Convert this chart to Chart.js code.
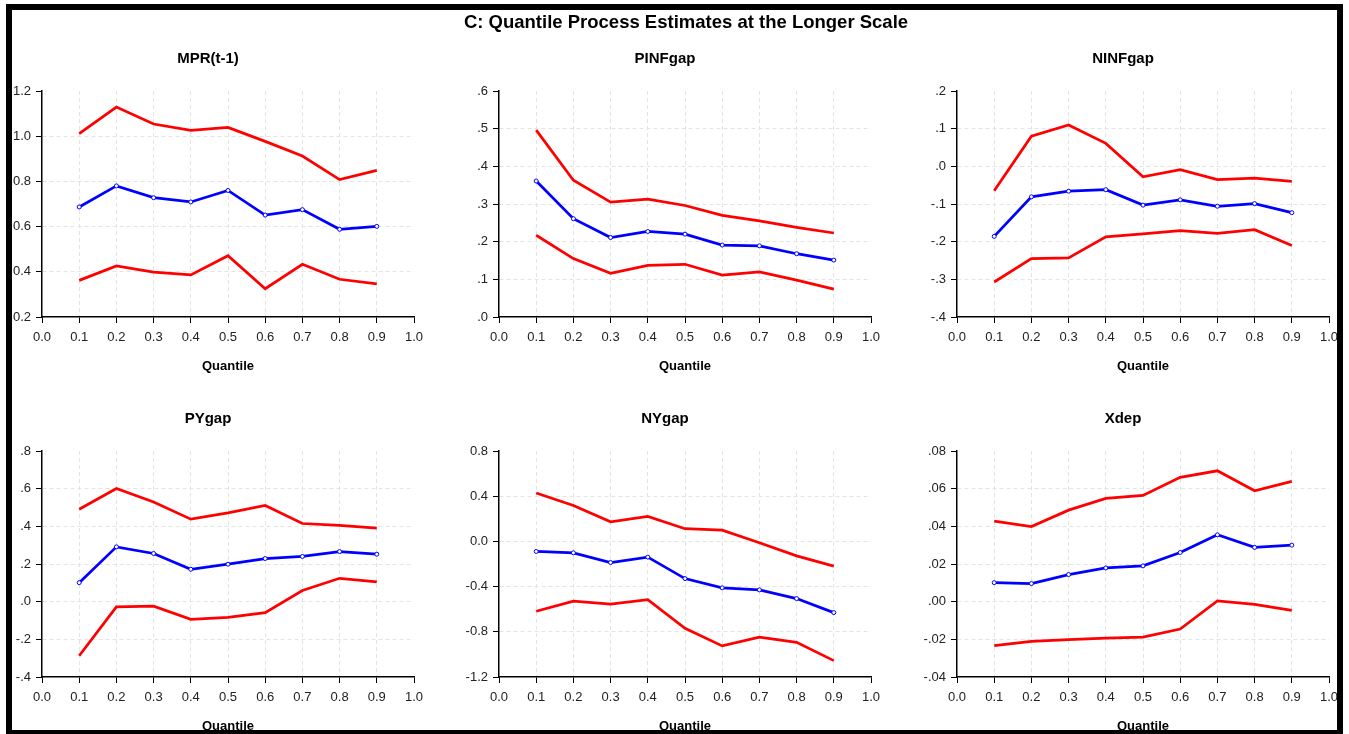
<!DOCTYPE html>
<html>
<head>
<meta charset="utf-8">
<title>Quantile Process Estimates</title>
<script src="https://cdn.jsdelivr.net/npm/chart.js@4/dist/chart.umd.min.js"></script>
<style>
  html, body {
    margin: 0;
    padding: 0;
    background: #ffffff;
    overflow: hidden;
  }
  #page {
    position: relative;
    width: 1349px;
    height: 734px;
  }
  #frame {
    position: absolute;
    left: 6px;
    top: 4px;
    width: 1337px;
    height: 732px;
    box-sizing: border-box;
    border: 6px solid #000;
    z-index: 5;
    pointer-events: none;
  }
  #mainTitle {
    position: absolute;
    left: 386px;
    top: 11px;
    width: 600px;
    text-align: center;
    font: bold 18.5px "Liberation Sans", Arial, sans-serif;
    line-height: 22px;
    color: #000;
    z-index: 6;
  }
  .panel {
    position: absolute;
    width: 452px;
    height: 333px;
  }
</style>
</head>
<body>
<div id="page">
  <div id="frame"></div>
  <div id="mainTitle">C: Quantile Process Estimates at the Longer Scale</div>
  <div class="panel" style="left:2px;top:41px"><canvas id="mprChart"></canvas></div>
  <div class="panel" style="left:459px;top:41px"><canvas id="pinfChart"></canvas></div>
  <div class="panel" style="left:917px;top:41px"><canvas id="ninfChart"></canvas></div>
  <div class="panel" style="left:2px;top:401px"><canvas id="pyChart"></canvas></div>
  <div class="panel" style="left:459px;top:401px"><canvas id="nyChart"></canvas></div>
  <div class="panel" style="left:917px;top:401px"><canvas id="xdepChart"></canvas></div>
</div>

<script>
const quantiles = [0.1, 0.2, 0.3, 0.4, 0.5, 0.6, 0.7, 0.8, 0.9];

const xTicks = [0, 0.1, 0.2, 0.3, 0.4, 0.5, 0.6, 0.7, 0.8, 0.9, 1.0];
const xLabels = ["0.0", "0.1", "0.2", "0.3", "0.4", "0.5", "0.6", "0.7", "0.8", "0.9", "1.0"];

// MPR(t-1)
const mprUpper = [1.011, 1.129, 1.054, 1.026, 1.039, 0.977, 0.912, 0.808, 0.849];
const mprCoef = [0.687, 0.780, 0.728, 0.709, 0.760, 0.651, 0.675, 0.588, 0.601];
const mprLower = [0.362, 0.426, 0.399, 0.386, 0.471, 0.325, 0.433, 0.367, 0.347];
const mprTicks = [0.2, 0.4, 0.6, 0.8, 1.0, 1.2];
const mprLabels = ["0.2", "0.4", "0.6", "0.8", "1.0", "1.2"];

// PINFgap
const pinfUpper = [0.496, 0.363, 0.305, 0.313, 0.296, 0.270, 0.255, 0.238, 0.223];
const pinfCoef = [0.361, 0.261, 0.211, 0.227, 0.220, 0.191, 0.189, 0.168, 0.151];
const pinfLower = [0.217, 0.155, 0.116, 0.137, 0.140, 0.111, 0.120, 0.098, 0.074];
const pinfTicks = [0, 0.1, 0.2, 0.3, 0.4, 0.5, 0.6];
const pinfLabels = [".0", ".1", ".2", ".3", ".4", ".5", ".6"];

// NINFgap
const ninfUpper = [-0.065, 0.080, 0.110, 0.061, -0.028, -0.009, -0.035, -0.031, -0.040];
const ninfCoef = [-0.186, -0.081, -0.066, -0.062, -0.103, -0.089, -0.106, -0.099, -0.123];
const ninfLower = [-0.307, -0.245, -0.243, -0.187, -0.179, -0.171, -0.178, -0.168, -0.210];
const ninfTicks = [-0.4, -0.3, -0.2, -0.1, 0, 0.1, 0.2];
const ninfLabels = ["-.4", "-.3", "-.2", "-.1", ".0", ".1", ".2"];

// PYgap
const pyUpper = [0.491, 0.601, 0.529, 0.438, 0.472, 0.511, 0.415, 0.405, 0.390];
const pyCoef = [0.101, 0.291, 0.256, 0.172, 0.199, 0.229, 0.240, 0.266, 0.252];
const pyLower = [-0.287, -0.028, -0.024, -0.094, -0.083, -0.058, 0.059, 0.124, 0.105];
const pyTicks = [-0.4, -0.2, 0, 0.2, 0.4, 0.6, 0.8];
const pyLabels = ["-.4", "-.2", ".0", ".2", ".4", ".6", ".8"];

// NYgap
const nyUpper = [0.428, 0.318, 0.174, 0.221, 0.112, 0.100, -0.012, -0.128, -0.219];
const nyCoef = [-0.089, -0.101, -0.187, -0.139, -0.329, -0.411, -0.429, -0.506, -0.630];
const nyLower = [-0.618, -0.529, -0.556, -0.515, -0.769, -0.925, -0.848, -0.893, -1.055];
const nyTicks = [-1.2, -0.8, -0.4, 0, 0.4, 0.8];
const nyLabels = ["-1.2", "-0.8", "-0.4", "0.0", "0.4", "0.8"];

// Xdep
const xdepUpper = [0.0428, 0.0399, 0.0486, 0.0548, 0.0564, 0.0660, 0.0695, 0.0589, 0.0639];
const xdepCoef = [0.0101, 0.0096, 0.0144, 0.0179, 0.0190, 0.0261, 0.0355, 0.0288, 0.0300];
const xdepLower = [-0.0234, -0.0211, -0.0202, -0.0193, -0.0188, -0.0145, 0.0004, -0.0014, -0.0046];
const xdepTicks = [-0.04, -0.02, 0, 0.02, 0.04, 0.06, 0.08];
const xdepLabels = ["-.04", "-.02", ".00", ".02", ".04", ".06", ".08"];

Chart.defaults.font.family = "'Liberation Sans', Arial, sans-serif";
Chart.defaults.animation = false;

const gridGray = "#e4e4e4";

function toPoints(values) {
  return quantiles.map((q, i) => ({ x: q, y: values[i] }));
}

function hideEnds(ctx) {
  const last = ctx.scale.ticks.length - 1;
  if (ctx.index === 0 || ctx.index === last) return "rgba(0,0,0,0)";
  return gridGray;
}

function renderPanel(canvasId, title, upper, coef, lower, yTicks, yLabels) {

  const canvas = document.getElementById(canvasId);

  new Chart(canvas, {
    type: "line",
    data: {
      datasets: [
        {
          data: toPoints(upper),
          borderColor: "#ff0000",
          borderWidth: 2.75,
          pointRadius: 0,
          tension: 0
        },
        {
          data: toPoints(coef),
          borderColor: "#0000ff",
          borderWidth: 2.75,
          pointRadius: 2,
          pointBorderWidth: 1,
          pointBorderColor: "#0000ff",
          pointBackgroundColor: "#ffffff",
          tension: 0
        },
        {
          data: toPoints(lower),
          borderColor: "#ff0000",
          borderWidth: 2.75,
          pointRadius: 0,
          tension: 0
        }
      ]
    },
    options: {
      responsive: true,
      maintainAspectRatio: false,
      layout: {
        padding: { left: 0, right: 40, top: 0, bottom: 0 }
      },
      plugins: {
        legend: { display: false },
        tooltip: { enabled: false },
        title: {
          display: true,
          text: title,
          color: "#000",
          font: { size: 15, weight: "bold" },
          padding: { top: 9, bottom: 23 }
        }
      },
      scales: {
        x: {
          type: "linear",
          min: 0,
          max: 1,
          afterBuildTicks: scale => {
            scale.ticks = xTicks.map(v => ({ value: v }));
          },
          afterFit: scale => {
            scale.height = 57;
          },
          ticks: {
            color: "#222",
            font: { size: 13 },
            padding: 7,
            maxRotation: 0,
            autoSkip: false,
            callback: (value, index) => xLabels[index]
          },
          grid: {
            color: hideEnds,
            tickColor: "#000",
            tickLength: 6,
            lineWidth: 1
          },
          border: {
            display: true,
            color: "#000",
            width: 1.5,
            dash: [4, 3]
          },
          title: {
            display: true,
            text: "Quantile",
            color: "#000",
            font: { size: 13, weight: "bold" },
            padding: { top: 0, bottom: 0 }
          }
        },
        y: {
          type: "linear",
          min: yTicks[0],
          max: yTicks[yTicks.length - 1],
          afterBuildTicks: scale => {
            scale.ticks = yTicks.map(v => ({ value: v }));
          },
          afterFit: scale => {
            scale.width = 40;
          },
          ticks: {
            color: "#222",
            font: { size: 13 },
            padding: 5,
            autoSkip: false,
            callback: (value, index) => yLabels[index]
          },
          grid: {
            color: hideEnds,
            tickColor: "#000",
            tickLength: 6,
            lineWidth: 1
          },
          border: {
            display: true,
            color: "#000",
            width: 1.5,
            dash: [4, 3]
          }
        }
      }
    }
  });
}

renderPanel("mprChart", "MPR(t-1)", mprUpper, mprCoef, mprLower, mprTicks, mprLabels);
renderPanel("pinfChart", "PINFgap", pinfUpper, pinfCoef, pinfLower, pinfTicks, pinfLabels);
renderPanel("ninfChart", "NINFgap", ninfUpper, ninfCoef, ninfLower, ninfTicks, ninfLabels);
renderPanel("pyChart", "PYgap", pyUpper, pyCoef, pyLower, pyTicks, pyLabels);
renderPanel("nyChart", "NYgap", nyUpper, nyCoef, nyLower, nyTicks, nyLabels);
renderPanel("xdepChart", "Xdep", xdepUpper, xdepCoef, xdepLower, xdepTicks, xdepLabels);
</script>
</body>
</html>
